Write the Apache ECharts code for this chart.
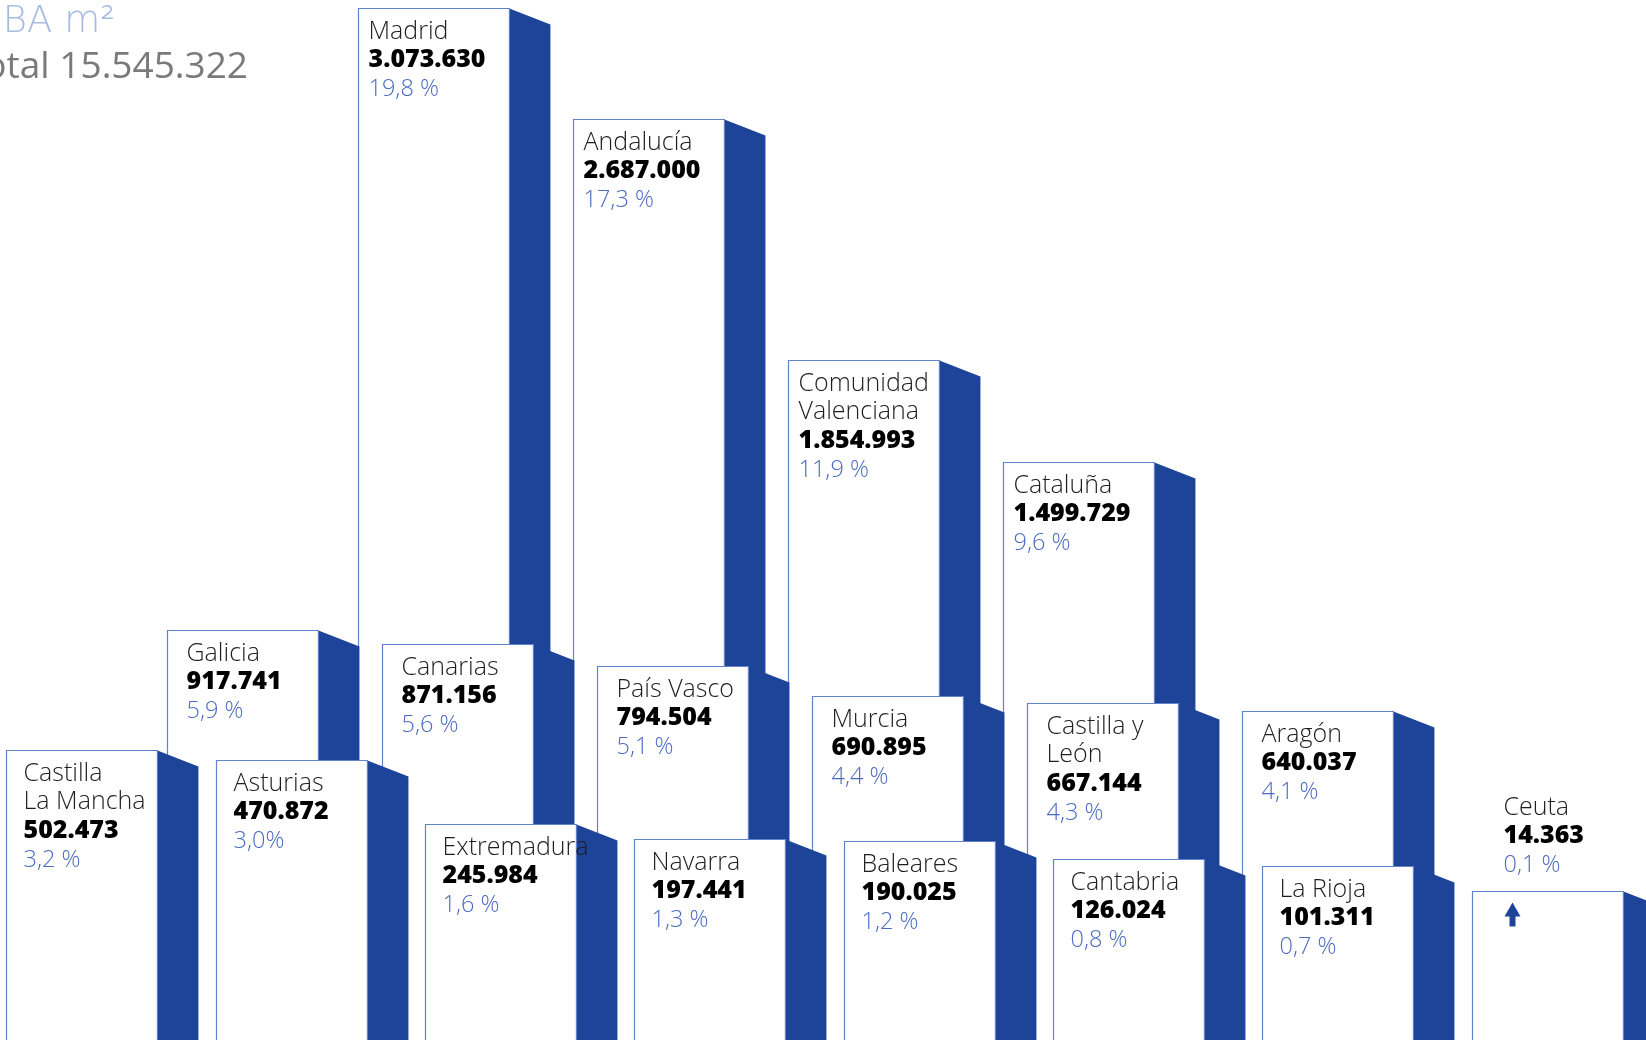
<!DOCTYPE html>
<html>
<head>
<meta charset="utf-8">
<script src="https://cdn.jsdelivr.net/npm/echarts@6/dist/echarts.min.js"></script>
<style>
  html, body { margin: 0; padding: 0; background: #ffffff; }
  #chart { width: 1646px; height: 1040px; }
</style>
</head>
<body>
<div id="chart"></div>
<script>
// ---------------- DATA ----------------
const regions = ['Madrid', 'Andalucía', 'Comunidad\nValenciana', 'Cataluña', 'Galicia', 'Canarias',
  'País Vasco', 'Murcia', 'Castilla y\nLeón', 'Aragón', 'Castilla\nLa Mancha', 'Asturias',
  'Extremadura', 'Navarra', 'Baleares', 'Cantabria', 'La Rioja', 'Ceuta'];
const sbaM2 = [3073630, 2687000, 1854993, 1499729, 917741, 871156, 794504, 690895, 667144,
  640037, 502473, 470872, 245984, 197441, 190025, 126024, 101311, 14363];
const shareLabels = ['19,8 %', '17,3 %', '11,9 %', '9,6 %', '5,9 %', '5,6 %', '5,1 %', '4,4 %', '4,3 %',
  '4,1 %', '3,2 %', '3,0%', '1,6 %', '1,3 %', '1,2 %', '0,8 %', '0,7 %', '0,1 %'];
const titleText = 'SBA m²';
const totalPrefix = 'Total';

// ---------------- LAYOUT / STYLE ----------------
const FONT = '"Open Sans", "DejaVu Sans", sans-serif';
const SIDE = '#1d4499';
const EDGE = '#6282c9';
const PCT = '#4a6bc0';
// bars are staggered in three depth rows, filled by rank (largest first)
const ROWS = [
  { count: 4, start: 0.89, step: 1, pad: 10 },
  { count: 6, start: 0, step: 1, pad: 19 },
  { count: 8, start: -0.7467, step: 0.9735, pad: 17 }
];
function rowOf(rank) {
  let r = 0, k = rank;
  while (k >= ROWS[r].count) { k -= ROWS[r].count; r++; }
  return { r, k };
}
function slotOf(rank) {
  const o = rowOf(rank);
  return ROWS[o.r].start + o.k * ROWS[o.r].step;
}
function fmt(n) { return String(n).replace(/\B(?=(\d{3})+(?!\d))/g, '.'); }

const total = sbaM2.reduce((a, b) => a + b, 0);
const seriesData = sbaM2.map((v, i) => [slotOf(i), v, i]);

const chart = echarts.init(document.getElementById('chart'), null, { renderer: 'canvas' });

function renderItem(params, api) {
  const i = api.value(2);
  const p = api.coord([api.value(0), api.value(1)]);
  const w = api.size([0.702, 0])[0];
  const cs = params.coordSys;
  const bottom = cs.y + cs.height + 4;
  const left = Math.round(p[0]) + 0.5;
  const top = Math.round(p[1]) + 0.5;
  const dx = 41, dy = 16;
  const children = [
    { type: 'polygon', shape: { points: [[left + w, top], [left + w + dx, top + dy], [left + w + dx, bottom], [left + w, bottom]] },
      style: { fill: SIDE } },
    { type: 'rect', shape: { x: left, y: top, width: w, height: bottom - top + 6 },
      style: { fill: '#ffffff', stroke: EDGE, lineWidth: 1.2 } }
  ];
  const isLast = i === sbaM2.length - 1;
  const lines = [];
  regions[i].split('\n').forEach(t => lines.push({ t, font: '300 25px ' + FONT, fill: '#1e1e1e' }));
  lines.push({ t: fmt(sbaM2[i]), font: '800 25px ' + FONT, fill: '#000000' });
  lines.push({ t: shareLabels[i], font: '300 23.5px ' + FONT, fill: PCT });
  let tx, ty;
  if (isLast) {
    tx = left + 31; ty = top - 84;
    children.push({ type: 'polygon', shape: { points: [[left + 40, top + 11], [left + 48, top + 25], [left + 32, top + 25]] }, style: { fill: SIDE } });
    children.push({ type: 'rect', shape: { x: left + 37, y: top + 24, width: 6, height: 11 }, style: { fill: SIDE } });
  } else {
    tx = left + ROWS[rowOf(i).r].pad; ty = top + 23;
  }
  lines.forEach((ln, k) => {
    children.push({ type: 'text', x: tx, y: ty + k * 28.8,
      style: { text: ln.t, font: ln.font, fill: ln.fill, align: 'left', verticalAlign: 'middle' } });
  });
  return { type: 'group', children };
}

chart.setOption({
  animation: false,
  backgroundColor: '#ffffff',
  grid: { left: 0, right: 0, top: 0, bottom: 0, containLabel: false },
  xAxis: { type: 'value', min: -0.7767, max: 6.8791, show: false },
  yAxis: { type: 'value', min: -500000, max: 3100000, show: false },
  graphic: [
    { type: 'text', x: 115, y: 22, z: 100,
      style: { text: titleText, align: 'right', verticalAlign: 'middle', font: '200 37px "DejaVu Sans", ' + FONT, fill: '#a7bbe2' } },
    { type: 'text', x: 248, y: 67, z: 100,
      style: { text: totalPrefix + ' ' + fmt(total), align: 'right', verticalAlign: 'middle', font: '400 37px ' + FONT, fill: '#7a7a7a' } }
  ],
  series: [{
    type: 'custom',
    renderItem,
    clip: false,
    encode: { x: 0, y: 1 },
    data: seriesData
  }]
});
</script>
</body>
</html>
